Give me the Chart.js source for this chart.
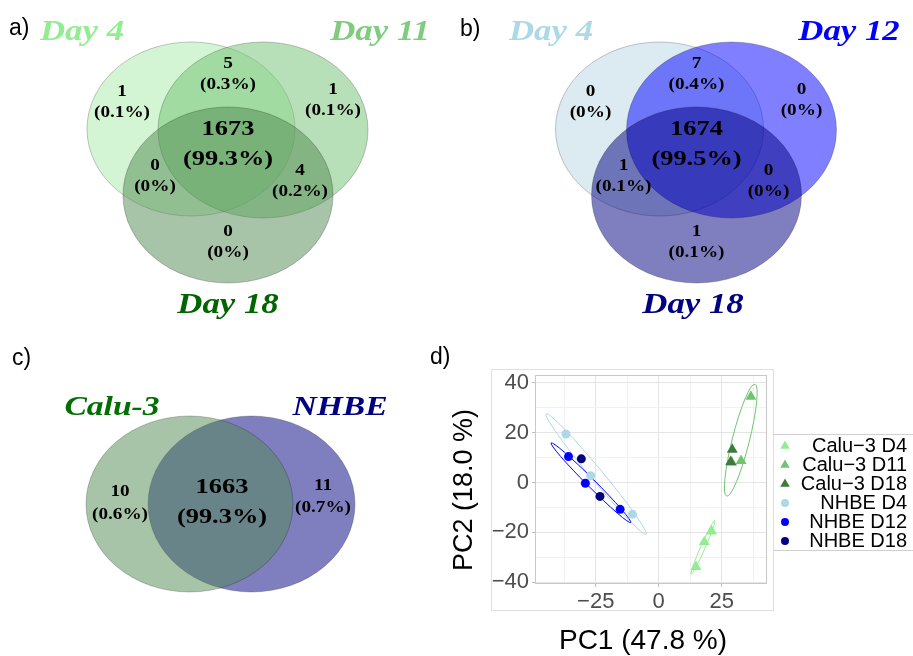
<!DOCTYPE html>
<html>
<head>
<meta charset="utf-8">
<script src="https://cdn.jsdelivr.net/npm/chart.js@4.4.0/dist/chart.umd.min.js"></script>
<style>
  body { margin: 0; background: #fff; }
  #wrap { position: relative; width: 913px; height: 656px; overflow: hidden; background: #fff; }
  canvas { position: absolute; }
</style>
</head>
<body>
<div id="wrap">
  <canvas id="vennA" width="450" height="330" style="left:0;top:0"></canvas>
  <canvas id="vennB" width="463" height="330" style="left:450px;top:0"></canvas>
  <canvas id="vennC" width="440" height="326" style="left:0;top:330px"></canvas>
  <canvas id="pca" width="493" height="326" style="left:420px;top:330px"></canvas>
</div>
<script>
// ---- data: venn a (Calu-3 over time) ----
// region order: only1, 1&2, only2, all, 1&3, 2&3, only3
var setsA = ['Day 4', 'Day 11', 'Day 18'];
var countsA = [1, 5, 1, 1673, 0, 4, 0];
var pctA = ['0.1%', '0.3%', '0.1%', '99.3%', '0%', '0.2%', '0%'];

// ---- data: venn b (NHBE over time) ----
var setsB = ['Day 4', 'Day 12', 'Day 18'];
var countsB = [0, 7, 0, 1674, 1, 0, 1];
var pctB = ['0%', '0.4%', '0%', '99.5%', '0.1%', '0%', '0.1%'];

// ---- data: venn c (cell lines) ----
// region order: only1, both, only2
var setsC = ['Calu-3', 'NHBE'];
var countsC = [10, 1663, 11];
var pctC = ['0.6%', '99.3%', '0.7%'];

// ---- data: PCA ----
var groupNames = ['Calu\u22123 D4', 'Calu\u22123 D11', 'Calu\u22123 D18', 'NHBE D4', 'NHBE D12', 'NHBE D18'];
var pc1 = [
  [14.8, 18.1, 21.0],
  [36.6, 32.7, 29.0],
  [29.2, 28.6],
  [-36.8, -27.0, -10.4],
  [-35.8, -29.1, -15.3],
  [-30.7, -23.3]
];
var pc2 = [
  [-33.9, -23.9, -19.6],
  [34.5, 8.7, 8.0],
  [13.2, 8.3],
  [19.5, 2.7, -12.8],
  [10.4, -0.3, -10.8],
  [9.5, -5.6]
];
// confidence ellipses: group, major-axis ends, semi-minor (PC units)
var ellipseGroup = [3, 4, 0, 1];
var ellipseEndA = [[-44.7, 27.6], [-42.7, 15.9], [12.9, -36.8], [38.2, 39.5]];
var ellipseEndB = [[-5.0, -20.8], [-11.1, -16.1], [22.3, -15.2], [27.0, -5.5]];
var ellipseMinor = [2.4, 1.6, 0.9, 3.4];

var yTicks = [-40, -20, 0, 20, 40];
var xTicks = [-25, 0, 25];
var xTitle = 'PC1 (47.8 %)';
var yTitle = 'PC2 (18.0 %)';

// ---- styles ----
var serif = '"Liberation Serif", "Times New Roman", serif';
var sans = '"Liberation Sans", Arial, sans-serif';
var stretch = 1.2; // venn pictures were widened

var groupColors = ['#90ee90', '#70c470', '#3d7a3d', '#add8e6', '#0000ff', '#000080'];
var groupShapes = ['triangle', 'triangle', 'triangle', 'circle', 'circle', 'circle'];
var groupRadius = [6.3, 6.3, 6.3, 4.5, 4.5, 4.5];

function wideText(ctx, text, x, y, font, color, baseline) {
  ctx.save();
  ctx.font = font;
  ctx.fillStyle = color;
  ctx.textAlign = 'center';
  ctx.textBaseline = baseline || 'middle';
  ctx.translate(x, y);
  ctx.scale(stretch, 1);
  ctx.fillText(text, 0, 0);
  ctx.restore();
}

function panelTag(ctx, text, x, y) {
  ctx.save();
  ctx.font = '23px ' + sans;
  ctx.fillStyle = '#000';
  ctx.textAlign = 'left';
  ctx.textBaseline = 'alphabetic';
  ctx.fillText(text, x, y);
  ctx.restore();
}

// cfg: tag, names, counts, pct, shapes (ellipses), fills, titles (pos+color), anchors, bigIndex
function makeVenn(id, cfg) {
  var canvas = document.getElementById(id);
  return new Chart(canvas.getContext('2d'), {
    type: 'scatter',
    data: { datasets: [] },
    options: {
      responsive: false,
      animation: false,
      events: [],
      layout: { padding: 0 },
      scales: {
        x: { display: false, min: 0, max: canvas.width },
        y: { display: false, min: 0, max: canvas.height, reverse: true }
      },
      plugins: { legend: { display: false }, tooltip: { enabled: false } }
    },
    plugins: [{
      id: 'venn',
      afterDraw: function (chart) {
        var ctx = chart.ctx;
        var xs = chart.scales.x, ys = chart.scales.y;
        var order = cfg.drawOrder || cfg.shapes.map(function (s, i) { return i; });

        order.forEach(function (i) {
          var s = cfg.shapes[i];
          var cx = xs.getPixelForValue(s[0]), cy = ys.getPixelForValue(s[1]);
          var rx = xs.getPixelForValue(s[0] + s[2]) - cx;
          var ry = ys.getPixelForValue(s[1] + s[3]) - cy;
          ctx.save();
          ctx.beginPath();
          ctx.ellipse(cx, cy, Math.abs(rx), Math.abs(ry), 0, 0, Math.PI * 2);
          ctx.fillStyle = cfg.fills[i];
          ctx.fill();
          ctx.strokeStyle = 'rgba(0,0,0,0.22)';
          ctx.lineWidth = 1;
          ctx.stroke();
          ctx.restore();
        });

        cfg.names.forEach(function (name, i) {
          var t = cfg.titles[i];
          wideText(ctx, name, xs.getPixelForValue(t[0]), ys.getPixelForValue(t[1]),
            'italic bold ' + cfg.titleSize + 'px ' + serif, cfg.titleColors[i], 'alphabetic');
        });

        cfg.counts.forEach(function (n, i) {
          var a = cfg.anchors[i];
          var big = i === cfg.bigIndex;
          var size = big ? 22 : 16;
          var gap = big ? 15 : (cfg.gaps ? cfg.gaps[i] : 10.5);
          var x = xs.getPixelForValue(a[0]), y = ys.getPixelForValue(a[1]);
          wideText(ctx, String(n), x, y - gap, 'bold ' + size + 'px ' + serif, '#000');
          wideText(ctx, '(' + cfg.pct[i] + ')', x, y + gap, 'bold ' + size + 'px ' + serif, '#000');
        });

        panelTag(ctx, cfg.tag, cfg.tagPos[0], cfg.tagPos[1]);
      }
    }]
  });
}

// three-set geometry (panel-local pixels), shifted for panel b
function threeSetLayout(dx) {
  return {
    shapes: [[191 + dx, 129, 104, 87], [263 + dx, 130, 105, 88], [228 + dx, 195, 105, 88]],
    anchors: [[122 + dx, 102], [228 + dx, 74], [333 + dx, 100], [228 + dx, 144],
              [155 + dx, 176], [300 + dx, 181], [228 + dx, 242]]
  };
}

var layA = threeSetLayout(0);
makeVenn('vennA', {
  tag: 'a)', tagPos: [9, 35],
  names: setsA, counts: countsA, pct: pctA, bigIndex: 3,
  shapes: layA.shapes, anchors: layA.anchors,
  fills: ['rgba(169,235,169,0.5)', 'rgba(113,193,113,0.5)', 'rgba(81,137,81,0.5)'],
  titles: [[82, 40], [380, 40], [228, 313]], titleSize: 29,
  titleColors: ['#90ee90', '#7fcc7f', '#006400']
});

var layB = threeSetLayout(18.5);
makeVenn('vennB', {
  tag: 'b)', tagPos: [10, 36],
  names: setsB, counts: countsB, pct: pctB, bigIndex: 3,
  shapes: layB.shapes, anchors: layB.anchors,
  fills: ['rgba(185,215,229,0.5)', 'rgba(0,0,255,0.5)', 'rgba(0,0,128,0.5)'],
  titles: [[101, 40], [399, 40], [243, 313]], titleSize: 29,
  titleColors: ['#add8e6', '#0000ff', '#000080']
});

makeVenn('vennC', {
  tag: 'c)', tagPos: [12, 35],
  names: setsC, counts: countsC, pct: pctC, bigIndex: 1,
  shapes: [[189.5, 174, 103.5, 88], [251.5, 174, 103.5, 88]],
  drawOrder: [1, 0],
  anchors: [[120, 173.5], [222, 172], [323, 167]],
  gaps: [11.5, 15, 11],
  fills: ['rgba(81,137,81,0.5)', 'rgba(0,0,128,0.5)'],
  titles: [[112, 85], [340, 85]], titleSize: 28,
  titleColors: ['#006e00', '#000080']
});

// ---- PCA ----
var datasets = groupNames.map(function (name, g) {
  return {
    label: name,
    data: pc1[g].map(function (x, k) { return { x: x, y: pc2[g][k] }; }),
    pointStyle: groupShapes[g],
    pointRadius: groupRadius[g],
    backgroundColor: groupColors[g],
    borderWidth: 0,
    order: groupNames.length - g
  };
});

function minus(v) { return String(v).replace('-', '\u2212'); }

var pcaDecor = {
  id: 'pcaDecor',
  beforeDatasetsDraw: function (chart) {
    var ctx = chart.ctx, area = chart.chartArea;
    var xs = chart.scales.x, ys = chart.scales.y;
    ctx.save();
    // outer panel frame
    ctx.strokeStyle = '#e0e0e0';
    ctx.lineWidth = 1;
    ctx.strokeRect(71.5, 39.5, 282, 241);
    // plot frame
    ctx.strokeStyle = '#c8c8c8';
    ctx.strokeRect(area.left + 0.5, area.top + 0.5, area.right - area.left - 1, area.bottom - area.top - 1);
    // ellipses
    ctx.beginPath();
    ctx.rect(area.left, area.top, area.right - area.left, area.bottom - area.top);
    ctx.clip();
    var unit = (xs.getPixelForValue(10) - xs.getPixelForValue(0)) / 10;
    ellipseGroup.forEach(function (g, i) {
      var x1 = xs.getPixelForValue(ellipseEndA[i][0]), y1 = ys.getPixelForValue(ellipseEndA[i][1]);
      var x2 = xs.getPixelForValue(ellipseEndB[i][0]), y2 = ys.getPixelForValue(ellipseEndB[i][1]);
      var a = Math.hypot(x2 - x1, y2 - y1) / 2;
      var ang = Math.atan2(y2 - y1, x2 - x1);
      ctx.beginPath();
      ctx.ellipse((x1 + x2) / 2, (y1 + y2) / 2, a, ellipseMinor[i] * unit, ang, 0, Math.PI * 2);
      ctx.strokeStyle = groupColors[g];
      ctx.lineWidth = 1;
      ctx.stroke();
    });
    ctx.restore();
  },
  afterDraw: function (chart) {
    var ctx = chart.ctx;
    ctx.save();
    // axis titles
    ctx.fillStyle = '#000';
    ctx.textAlign = 'center';
    ctx.textBaseline = 'middle';
    ctx.font = '28px ' + sans;
    ctx.fillText(xTitle, 223, 311);
    ctx.save();
    ctx.translate(45, 160);
    ctx.rotate(-Math.PI / 2);
    ctx.font = '27px ' + sans;
    ctx.fillText(yTitle, 0, 0);
    ctx.restore();
    // legend box edges
    ctx.strokeStyle = '#d0d0d0';
    ctx.lineWidth = 1;
    ctx.beginPath();
    ctx.moveTo(353, 104.5); ctx.lineTo(493, 104.5);
    ctx.moveTo(353, 220.5); ctx.lineTo(493, 220.5);
    ctx.stroke();
    ctx.font = '20px ' + sans;
    ctx.textAlign = 'right';
    groupNames.forEach(function (name, g) {
      var y = 116 + g * 19;
      ctx.fillStyle = groupColors[g];
      Chart.helpers.drawPoint(ctx, {
        pointStyle: groupShapes[g], rotation: 0,
        radius: groupShapes[g] === 'triangle' ? 5.5 : 4, borderWidth: 0
      }, 365, y);
      ctx.fillStyle = '#000';
      ctx.fillText(name, 487, y);
    });
    ctx.restore();
    panelTag(ctx, 'd)', 10, 34);
  }
};

var gridColor = function (step) {
  return function (c) {
    return c.tick && Math.abs(c.tick.value % step) < 1e-6 ? '#e4e4e4' : '#f1f1f1';
  };
};
var tickColor = function (step) {
  return function (c) {
    return c.tick && Math.abs(c.tick.value % step) < 1e-6 ? '#bdbdbd' : 'rgba(0,0,0,0)';
  };
};

new Chart(document.getElementById('pca').getContext('2d'), {
  type: 'scatter',
  data: { datasets: datasets },
  options: {
    responsive: false,
    animation: false,
    events: [],
    layout: { padding: { left: 20, top: 45, right: 146, bottom: 0 } },
    scales: {
      x: {
        min: -49.1, max: 43.0,
        border: { display: false },
        grid: { color: gridColor(25), tickColor: tickColor(25), tickLength: 3 },
        ticks: {
          stepSize: 12.5, includeBounds: false, autoSkip: false, maxRotation: 0,
          padding: 2, color: '#4d4d4d', font: { family: sans, size: 22 },
          callback: function (v) { return xTicks.indexOf(v) >= 0 ? minus(v) : ''; }
        },
        afterFit: function (s) { s.height = 72; }
      },
      y: {
        min: -40.8, max: 43.2,
        border: { display: false },
        grid: { color: gridColor(20), tickColor: tickColor(20), tickLength: 3 },
        ticks: {
          stepSize: 10, includeBounds: false, autoSkip: false,
          padding: 3, color: '#4d4d4d', font: { family: sans, size: 22 },
          callback: function (v) { return yTicks.indexOf(v) >= 0 ? minus(v) : ''; }
        },
        afterFit: function (s) { s.width = 95; }
      }
    },
    plugins: { legend: { display: false }, tooltip: { enabled: false } }
  },
  plugins: [pcaDecor]
});
</script>
</body>
</html>
